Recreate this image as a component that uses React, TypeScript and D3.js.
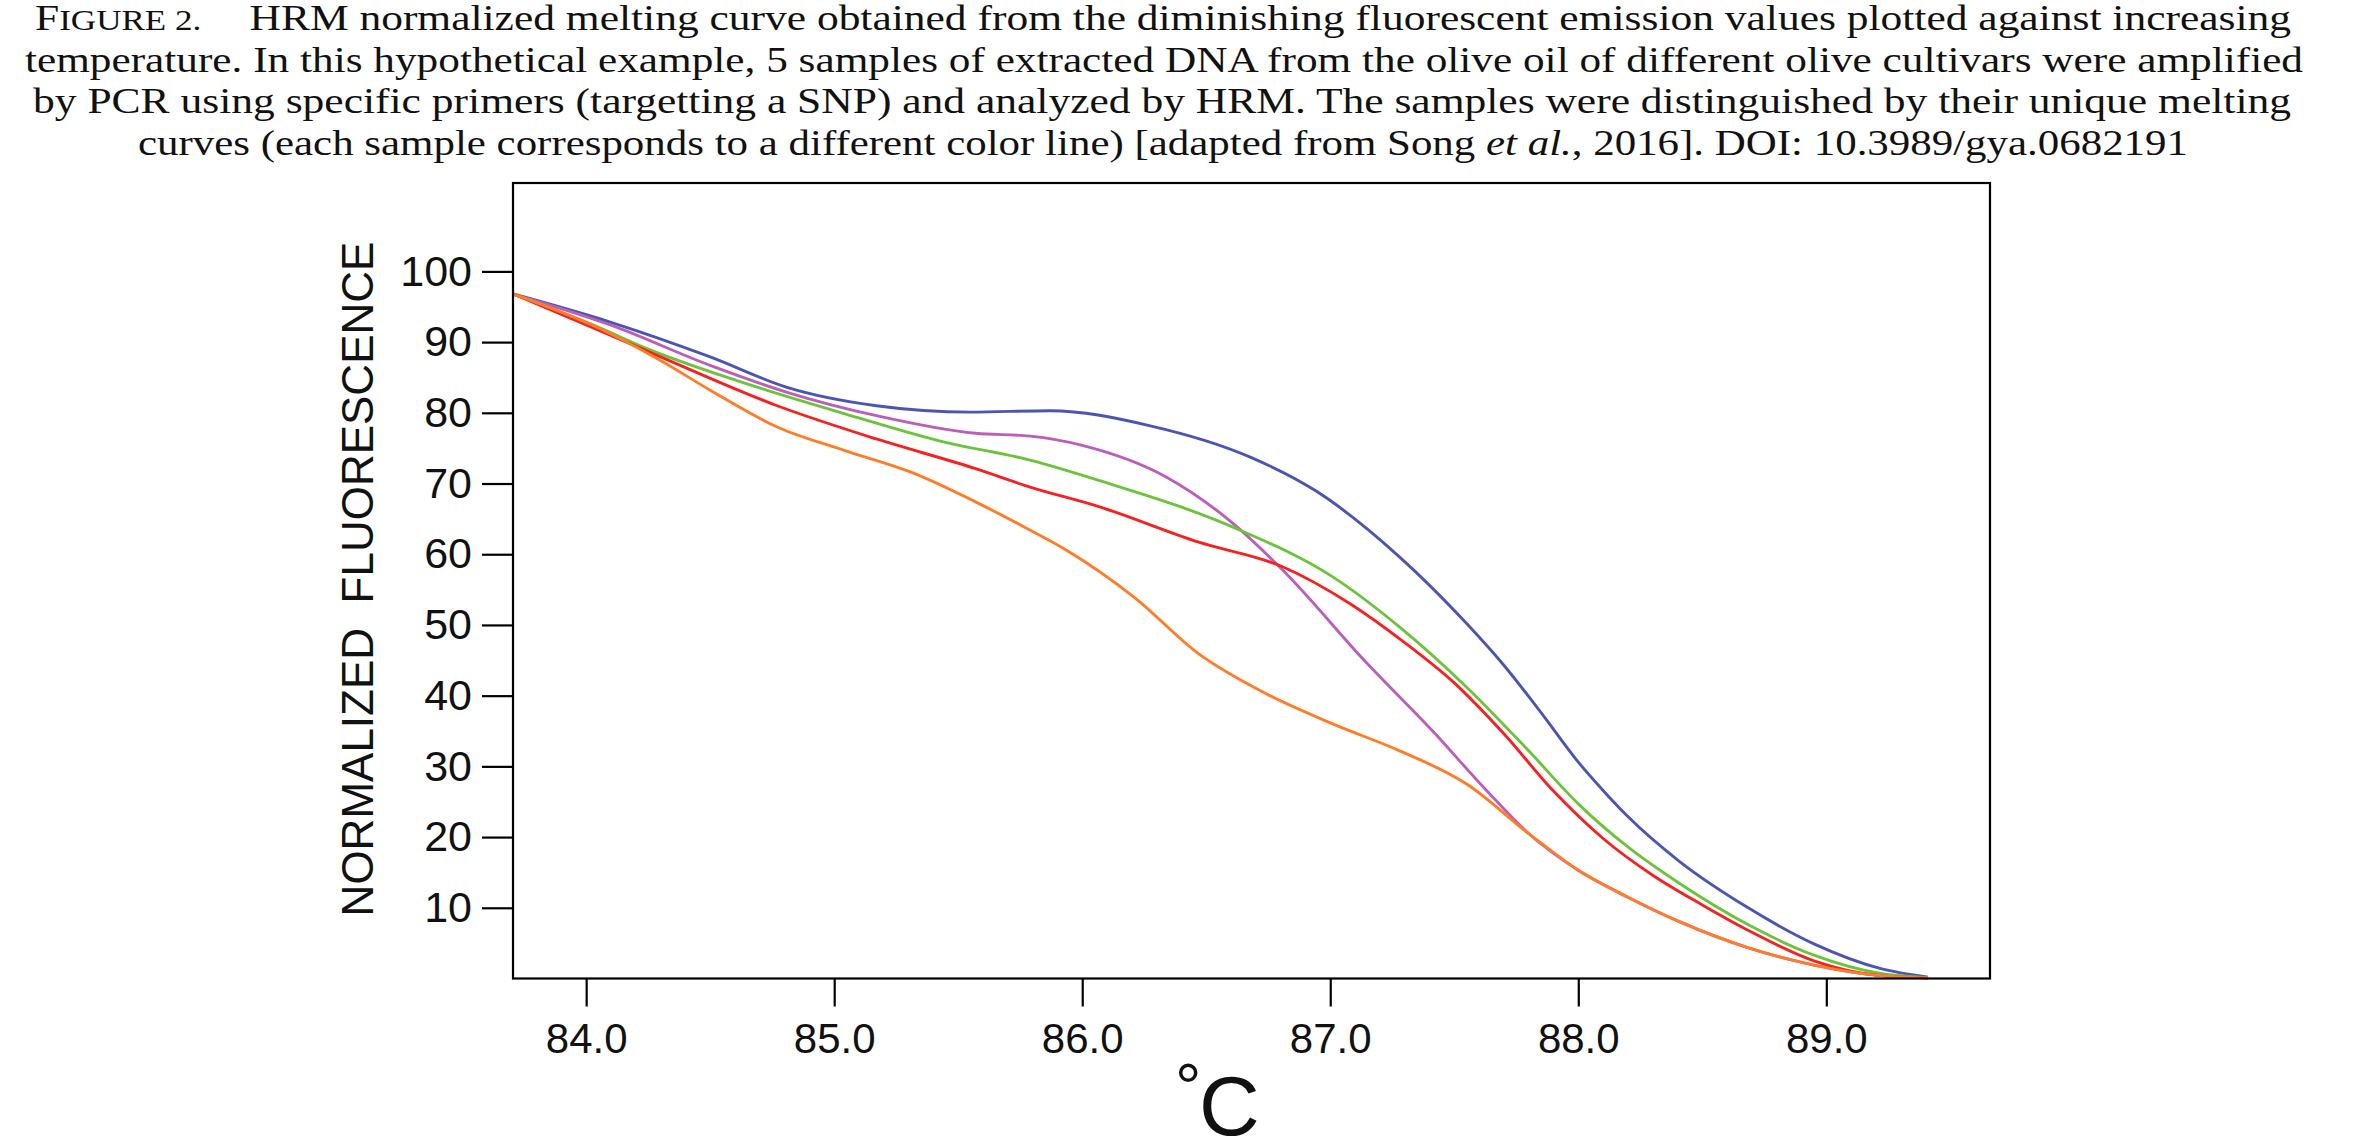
import React, { useEffect, useRef } from "react";
import * as d3 from "d3";

// temperature (°C) / normalized fluorescence
const sampleBlue: [number, number][] = [
  [83.706, 96.8], [84.1, 92.8], [84.5, 87.9], [84.81, 83.6], [85.17, 81.0],
  [85.55, 80.1], [85.87, 80.3], [86.27, 78.2], [86.68, 73.7], [86.94, 69.0],
  [87.28, 59.6], [87.55, 50.2], [87.7, 44.3], [87.85, 37.6], [88.0, 30.6],
  [88.1, 26.6], [88.2, 22.9], [88.41, 16.5], [88.68, 10.1], [88.95, 4.9],
  [89.22, 1.4], [89.41, 0.2],
];
const sampleMagenta: [number, number][] = [
  [83.706, 96.8], [84.1, 92.4], [84.5, 86.7], [84.81, 82.9], [85.17, 79.6],
  [85.57, 77.1], [85.79, 76.7], [86.0, 75.4], [86.34, 70.9], [86.61, 64.3],
  [86.81, 57.7], [87.15, 44.5], [87.41, 35.1], [87.63, 26.6], [87.8, 20.5],
  [88.0, 15.3], [88.2, 11.5], [88.41, 8.0], [88.68, 4.4], [88.95, 1.9],
  [89.22, 0.4], [89.41, 0.1],
];
const sampleGreen: [number, number][] = [
  [83.706, 96.8], [84.03, 92.4], [84.23, 89.3], [84.63, 84.3], [85.04, 79.9],
  [85.44, 75.9], [85.79, 73.3], [86.07, 70.4], [86.61, 63.8], [87.01, 56.8],
  [87.28, 49.7], [87.55, 41.2], [87.8, 32.2], [88.0, 24.7], [88.2, 18.6],
  [88.41, 13.4], [88.68, 7.7], [88.95, 3.3], [89.22, 0.7], [89.41, 0.1],
];
const sampleRed: [number, number][] = [
  [83.706, 96.8], [84.05, 91.7], [84.3, 87.9], [84.77, 81.0], [85.17, 76.3],
  [85.57, 72.1], [85.79, 69.5], [86.07, 66.7], [86.47, 61.7], [86.81, 58.2],
  [87.08, 53.0], [87.3, 47.5], [87.5, 41.8], [87.7, 34.6], [87.9, 26.5],
  [88.1, 19.8], [88.3, 14.6], [88.5, 10.4], [88.68, 6.9], [88.95, 2.5],
  [89.22, 0.4], [89.41, 0.1],
];
const sampleOrange: [number, number][] = [
  [83.706, 96.8], [84.05, 92.0], [84.3, 87.4], [84.5, 83.2], [84.77, 78.0],
  [85.04, 74.7], [85.31, 71.6], [85.57, 67.4], [85.79, 63.4], [85.94, 60.5],
  [86.21, 53.9], [86.47, 45.9], [86.74, 40.3], [87.01, 36.0], [87.28, 32.2],
  [87.55, 27.5], [87.8, 20.5], [88.0, 15.3], [88.2, 11.5], [88.41, 8.0],
  [88.68, 4.4], [88.95, 1.9], [89.22, 0.4], [89.41, 0.1],
];

const samples = [
  { color: "#4b56b3", points: sampleBlue },
  { color: "#bb5fbb", points: sampleMagenta },
  { color: "#6cc43c", points: sampleGreen },
  { color: "#f52222", points: sampleRed },
  { color: "#ff7d26", points: sampleOrange },
];

const xTicks = [84, 85, 86, 87, 88, 89];
const yTicks = [10, 20, 30, 40, 50, 60, 70, 80, 90, 100];

const captionLine1 =
  "HRM normalized melting curve obtained from the diminishing fluorescent emission values plotted against increasing";
const captionLine2 =
  "temperature. In this hypothetical example, 5 samples of extracted DNA from the olive oil of different olive cultivars were amplified";
const captionLine3 =
  "by PCR using specific primers (targetting a SNP) and analyzed by HRM. The samples were distinguished by their unique melting";
const captionLine4a =
  "curves (each sample corresponds to a different color line) [adapted from Song ";
const captionLine4b = "et al.";
const captionLine4c = ", 2016]. DOI: 10.3989/gya.0682191";

const App = () => {
  const ref = useRef<SVGSVGElement>(null);

  useEffect(() => {
    document.body.style.margin = "0";
    const svg = d3.select(ref.current);
    svg.selectAll("*").remove();

    const left = 513, right = 1990, top = 183, bottom = 978.5;

    const x = d3.scaleLinear().domain([83.705, 89.66]).range([left, right]);
    const y = d3.scaleLinear().domain([0, 112.5]).range([bottom, top]);

    // caption
    const cap = svg
      .append("g")
      .attr("font-family", "'Liberation Serif', 'Times New Roman', serif")
      .attr("font-size", 36)
      .attr("fill", "#111")
      .attr("text-anchor", "middle");

    const l1 = cap
      .append("text")
      .attr("x", 1163)
      .attr("y", 30)
      .attr("textLength", 2256)
      .attr("lengthAdjust", "spacingAndGlyphs");
    l1.append("tspan").text("F");
    l1.append("tspan").attr("font-size", 29).text("IGURE 2.");
    l1.append("tspan").attr("dx", 40).text(captionLine1);

    cap
      .append("text")
      .attr("x", 1164)
      .attr("y", 72)
      .attr("textLength", 2278)
      .attr("lengthAdjust", "spacingAndGlyphs")
      .text(captionLine2);

    cap
      .append("text")
      .attr("x", 1162)
      .attr("y", 113)
      .attr("textLength", 2258)
      .attr("lengthAdjust", "spacingAndGlyphs")
      .text(captionLine3);

    const l4 = cap
      .append("text")
      .attr("x", 1163)
      .attr("y", 155)
      .attr("textLength", 2050)
      .attr("lengthAdjust", "spacingAndGlyphs");
    l4.append("tspan").text(captionLine4a);
    l4.append("tspan").attr("font-style", "italic").text(captionLine4b);
    l4.append("tspan").text(captionLine4c);

    // curves
    const line = d3
      .line<[number, number]>()
      .x((d) => x(d[0]))
      .y((d) => y(d[1]))
      .curve(d3.curveMonotoneX);

    svg
      .append("g")
      .attr("fill", "none")
      .attr("stroke-width", 2.9)
      .selectAll("path")
      .data(samples)
      .enter()
      .append("path")
      .attr("stroke", (d) => d.color)
      .attr("d", (d) => line(d.points));

    // frame
    svg
      .append("rect")
      .attr("x", left)
      .attr("y", top)
      .attr("width", right - left)
      .attr("height", bottom - top)
      .attr("fill", "none")
      .attr("stroke", "#000")
      .attr("stroke-width", 2.2);

    const font = "'Liberation Sans', Arial, sans-serif";

    const yAxis = svg
      .append("g")
      .attr("transform", `translate(${left},0)`)
      .call(
        d3
          .axisLeft(y)
          .tickValues(yTicks)
          .tickSize(31)
          .tickPadding(10)
          .tickFormat(d3.format("d"))
      );
    yAxis.select(".domain").remove();
    yAxis.selectAll("line").attr("stroke", "#000").attr("stroke-width", 2.2);
    yAxis
      .selectAll("text")
      .attr("font-family", font)
      .attr("font-size", 43)
      .attr("fill", "#111");

    const xAxis = svg
      .append("g")
      .attr("transform", `translate(0,${bottom})`)
      .call(
        d3
          .axisBottom(x)
          .tickValues(xTicks)
          .tickSize(28)
          .tickPadding(17)
          .tickFormat(d3.format(".1f"))
      );
    xAxis.select(".domain").remove();
    xAxis.selectAll("line").attr("stroke", "#000").attr("stroke-width", 2.2);
    xAxis
      .selectAll("text")
      .attr("font-family", font)
      .attr("font-size", 42)
      .attr("fill", "#111");

    // axis titles
    svg
      .append("text")
      .attr("transform", "translate(373,579) rotate(-90)")
      .attr("text-anchor", "middle")
      .attr("font-family", font)
      .attr("font-size", 44)
      .attr("fill", "#111")
      .text("NORMALIZED\u00a0\u00a0FLUORESCENCE");

    svg
      .append("text")
      .attr("x", 1175)
      .attr("y", 1110)
      .attr("font-family", font)
      .attr("font-size", 66)
      .attr("fill", "#111")
      .text("°");
    svg
      .append("text")
      .attr("x", 1199)
      .attr("y", 1135)
      .attr("font-family", font)
      .attr("font-size", 84)
      .attr("fill", "#111")
      .text("C");
  }, []);

  return (
    <svg
      ref={ref}
      width={2358}
      height={1144}
      style={{ display: "block", background: "#fff" }}
    />
  );
};

export default App;
